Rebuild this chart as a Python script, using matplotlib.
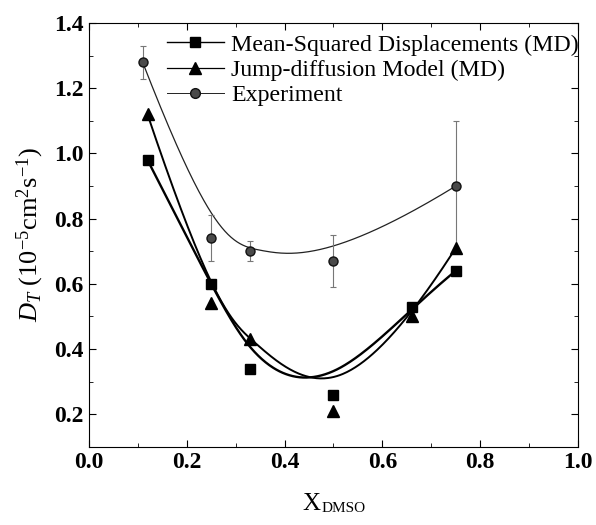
import numpy as np
import matplotlib.pyplot as plt
from matplotlib.ticker import MultipleLocator

# === DATOS ===
x_md = [0.12, 0.25, 0.33, 0.50, 0.66, 0.75]
d_msd = [0.98, 0.60, 0.34, 0.26, 0.53, 0.64]
d_jump = [1.12, 0.54, 0.43, 0.21, 0.50, 0.71]

x_exp = [0.11, 0.25, 0.33, 0.50, 0.75]
d_exp = [1.28, 0.74, 0.70, 0.67, 0.90]
err_exp = [0.05, 0.07, 0.03, 0.08, 0.20]

labels = ["Mean-Squared Displacements (MD)", "Jump-diffusion Model (MD)", "Experiment"]

plt.rcParams['font.family'] = ['Liberation Serif', 'DejaVu Serif']
plt.rcParams['mathtext.fontset'] = 'custom'
plt.rcParams['mathtext.rm'] = 'Liberation Serif'
plt.rcParams['mathtext.it'] = 'Liberation Serif:italic'
plt.rcParams['mathtext.bf'] = 'Liberation Serif:bold'


def bspline(x, y, k=3, n=300):
    # B-spline sujeta (como en Origin): los datos son puntos de control
    pts = np.column_stack([x, y]).astype(float)
    m = len(pts)
    k = min(k, m - 1)
    inner = np.linspace(0, 1, m - k + 1)[1:-1]
    t = np.concatenate([np.zeros(k + 1), inner, np.ones(k + 1)])
    us = np.linspace(0, 1, n)
    out = []
    for u in us:
        if u >= 1.0:
            out.append(pts[-1])
            continue
        s = np.searchsorted(t, u, side='right') - 1
        d = [pts[j + s - k].copy() for j in range(k + 1)]
        for r in range(1, k + 1):
            for j in range(k, r - 1, -1):
                i = j + s - k
                a = (u - t[i]) / (t[i + 1 + k - r] - t[i])
                d[j] = (1 - a) * d[j - 1] + a * d[j]
        out.append(d[k])
    out = np.array(out)
    return out[:, 0], out[:, 1]


fig = plt.figure(figsize=(5.96, 5.25), dpi=100)
ax = fig.add_axes([0.149, 0.149, 0.821, 0.807])

# === CURVAS ===
xs, ys = bspline(x_md, d_msd)
ax.plot(xs, ys, color='black', lw=1.7)
xs, ys = bspline(x_md, d_jump)
ax.plot(xs, ys, color='black', lw=1.4)
xs, ys = bspline(x_exp, d_exp)
ax.plot(xs, ys, color='#222222', lw=0.9)

# === PUNTOS ===
ax.errorbar(x_exp, d_exp, yerr=err_exp, fmt='none', ecolor='#777777', elinewidth=0.8,
            capsize=2, capthick=0.8)
ax.plot(x_md, d_msd, 's', color='black', ms=6.5)
ax.plot(x_md, d_jump, '^', color='black', ms=8.5)
ax.plot(x_exp, d_exp, 'o', mfc='#4a4a4a', mec='#111111', ms=6.5)

# === LEYENDA ===
h1, = ax.plot([], [], '-s', color='black', ms=7, lw=1.0)
h2, = ax.plot([], [], '-^', color='black', ms=9, lw=0.9)
h3, = ax.plot([], [], '-o', color='#222222', mfc='#4a4a4a', mec='#111111', ms=7, lw=0.7)
ax.legend([h1, h2, h3], labels, loc='upper right', frameon=False, fontsize=17.2,
          handlelength=2.4, handletextpad=0.3, labelspacing=0.15, borderaxespad=0.15,
          bbox_to_anchor=(1.028, 1.005))

# === EJES ===
ax.set_xlim(0.0, 1.0)
ax.set_ylim(0.1, 1.4)
ax.xaxis.set_major_locator(MultipleLocator(0.2))
ax.xaxis.set_minor_locator(MultipleLocator(0.1))
ax.yaxis.set_minor_locator(MultipleLocator(0.1))
ax.set_yticks([0.2, 0.4, 0.6, 0.8, 1.0, 1.2, 1.4])
ax.tick_params(which='both', direction='in', top=True, right=True, labelsize=17)
ax.tick_params(which='major', length=5)
ax.tick_params(which='minor', length=3)
for lab in ax.get_xticklabels() + ax.get_yticklabels():
    lab.set_fontweight('bold')

# etiqueta X con subindice pequeño
fig.text(0.508, 0.0286, 'X', fontsize=18, va='baseline', ha='left')
fig.text(0.540, 0.0240, 'DMSO', fontsize=11, va='baseline', ha='left')
ax.set_ylabel(r'$D_T$ (10$^{-5}$cm$^{2}$s$^{-1}$)', fontsize=19, labelpad=6)

fig.savefig('out.png', dpi=100)
